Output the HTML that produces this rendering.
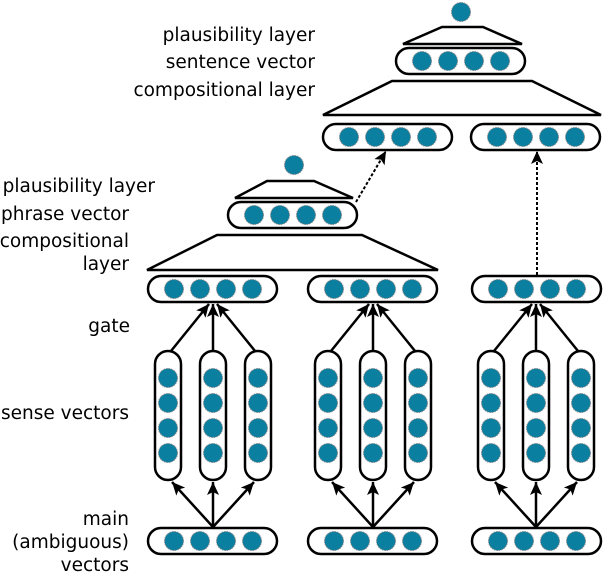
<!DOCTYPE html>
<html><head><meta charset="utf-8"><style>html,body{margin:0;padding:0;background:#fff}svg{display:block}</style></head>
<body>
<svg width="608" height="572" viewBox="0 0 608 572" xmlns="http://www.w3.org/2000/svg">
<defs>
<marker id="ah" markerWidth="14" markerHeight="14" refX="13" refY="6" orient="auto" markerUnits="userSpaceOnUse">
<path d="M0,0 L13,6 L0,12 L3,6 z" fill="#000"/>
</marker>
<g id="c"><circle r="9.5" fill="#0b7fa0" stroke="#888" stroke-width="1" stroke-dasharray="1.5,1"/></g>
<g id="h">
<rect x="0" y="0" width="129" height="26" rx="13" fill="#fff" stroke="#000" stroke-width="2.5"/>
<use href="#c" x="26" y="13"/><use href="#c" x="52" y="13"/><use href="#c" x="78" y="13"/><use href="#c" x="104" y="13"/>
</g>
<g id="v">
<rect x="-13" y="0" width="26" height="129" rx="13" fill="#fff" stroke="#000" stroke-width="2.5"/>
<use href="#c" x="0" y="27"/><use href="#c" x="0" y="52"/><use href="#c" x="0" y="77"/><use href="#c" x="0" y="102"/>
</g>
</defs>
<g font-family="DejaVu Sans, sans-serif" font-size="18.5" fill="#000" text-anchor="end">
<text x="315" y="41">plausibility layer</text>
<text x="315" y="68">sentence vector</text>
<text x="315" y="96">compositional layer</text>
<text x="155" y="192">plausibility layer</text>
<text x="129" y="220">phrase vector</text>
<text x="129" y="247">compositional</text>
<text x="129" y="270">layer</text>
<text x="130" y="332">gate</text>
<text x="129" y="419">sense vectors</text>
<text x="129" y="525">main</text>
<text x="129" y="548">(ambiguous)</text>
<text x="129" y="571">vectors</text>
</g>
<g fill="#fff" stroke="#000" stroke-width="2.5" stroke-linejoin="miter">
<polygon points="442,27 483,27 522,44 403,44"/>
<polygon points="392,81 532,81 601,115 323,115"/>
<polygon points="267,181 314,181 353,198 235,198"/>
<polygon points="217,235 362,235 438,270 147,270"/>
</g>
<use href="#c" x="461" y="12"/>
<use href="#c" x="294" y="165"/>
<use href="#h" x="396" y="48"/>
<use href="#h" x="323" y="124"/>
<use href="#h" x="471" y="124"/>
<use href="#h" x="228" y="202"/>
<use href="#h" x="148" y="276"/>
<use href="#h" x="308" y="276"/>
<use href="#h" x="472" y="276"/>
<use href="#h" x="148" y="528"/>
<use href="#h" x="308" y="528"/>
<use href="#h" x="472" y="528"/>
<use href="#v" x="168" y="351"/><use href="#v" x="213" y="351"/><use href="#v" x="258" y="351"/>
<use href="#v" x="328" y="351"/><use href="#v" x="373" y="351"/><use href="#v" x="418" y="351"/>
<use href="#v" x="491" y="351"/><use href="#v" x="536" y="351"/><use href="#v" x="581" y="351"/>
<g stroke="#000" stroke-width="2.5" marker-end="url(#ah)">
<line x1="171" y1="351" x2="209" y2="304"/><line x1="213" y1="351" x2="213" y2="304"/><line x1="255" y1="351" x2="217" y2="304"/>
<line x1="331" y1="351" x2="369" y2="304"/><line x1="373" y1="351" x2="373" y2="304"/><line x1="415" y1="351" x2="377" y2="304"/>
<line x1="494" y1="351" x2="532" y2="304"/><line x1="536" y1="351" x2="536" y2="304"/><line x1="578" y1="351" x2="540" y2="304"/>
<line x1="213" y1="527" x2="172" y2="482"/><line x1="213" y1="527" x2="213" y2="482"/><line x1="213" y1="527" x2="254" y2="482"/>
<line x1="373" y1="527" x2="332" y2="482"/><line x1="373" y1="527" x2="373" y2="482"/><line x1="373" y1="527" x2="414" y2="482"/>
<line x1="536" y1="527" x2="495" y2="482"/><line x1="536" y1="527" x2="536" y2="482"/><line x1="536" y1="527" x2="577" y2="482"/>
<line x1="356" y1="202" x2="386" y2="151" stroke-width="2" stroke-dasharray="3,2"/>
<line x1="537" y1="275" x2="537" y2="151" stroke-width="2" stroke-dasharray="3,2"/>
</g>
</svg>
</body></html>
